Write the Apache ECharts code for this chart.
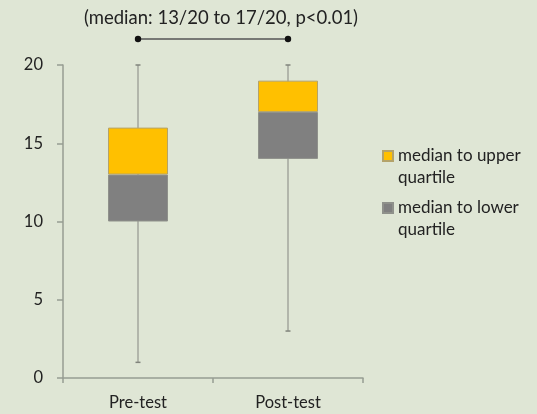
<!DOCTYPE html>
<html>
<head>
<meta charset="utf-8">
<script src="https://cdn.jsdelivr.net/npm/echarts@6/dist/echarts.min.js"></script>
<style>
  html, body { margin: 0; padding: 0; background: #dfe6d5; }
  #chart { width: 537px; height: 414px; }
</style>
</head>
<body>
<div id="chart"></div>
<script>
// Score distribution (out of 20) before and after the course
const categories = ['Pre-test', 'Post-test'];
const minValues = [1, 3];
const lowerQuartile = [10, 14];
const medianValues = [13, 17];
const upperQuartile = [16, 19];
const maxValues = [20, 20];
const yTicks = [0, 5, 10, 15, 20];
const pLabel = 'p<0.01';

const FONT = 'Lato, "Open Sans", sans-serif';
const TEXT = '#222222';
const AXIS = '#979d92';

const lowerSpan = medianValues.map((m, i) => m - lowerQuartile[i]);
const upperSpan = upperQuartile.map((q, i) => q - medianValues[i]);
const whiskerData = categories.map((c, i) => [i, minValues[i], maxValues[i]]);

const chart = echarts.init(document.getElementById('chart'), null, { renderer: 'canvas' });

const option = {
  backgroundColor: '#dfe6d5',
  animation: false,
  textStyle: { fontFamily: FONT },
  title: {
    text: `(median: ${medianValues[0]}/20 to ${medianValues[1]}/20, ${pLabel})`,
    left: 216,
    top: 4,
    textAlign: 'center',
    textStyle: { fontFamily: FONT, fontSize: 18.5, fontWeight: 'normal', color: TEXT }
  },
  legend: {
    orient: 'vertical',
    left: 382,
    top: 123,
    padding: 0,
    itemWidth: 10,
    itemHeight: 10,
    itemGap: -14,
    icon: 'rect',
    data: ['median to upper quartile', 'median to lower quartile'],
    // blank first line keeps the swatch level with the first text line
    formatter: name => '\n' + name.replace(' quartile', '\nquartile'),
    textStyle: { fontFamily: FONT, fontSize: 17, color: TEXT, lineHeight: 22 }
  },
  grid: { left: 63, right: 174, top: 65, bottom: 36, containLabel: false },
  xAxis: {
    type: 'category',
    data: categories,
    axisLine: { lineStyle: { color: AXIS, width: 1.5 } },
    axisTick: { show: true, length: 5, lineStyle: { color: AXIS, width: 1.5 } },
    axisLabel: { color: TEXT, fontSize: 16.5, fontFamily: FONT, margin: 16 }
  },
  yAxis: {
    type: 'value',
    min: yTicks[0],
    max: yTicks[yTicks.length - 1],
    interval: yTicks[1] - yTicks[0],
    splitLine: { show: false },
    axisLine: { show: true, lineStyle: { color: AXIS, width: 1.5 } },
    axisTick: { show: true, length: 6, lineStyle: { color: AXIS, width: 1.5 } },
    axisLabel: { color: TEXT, fontSize: 16.5, fontFamily: FONT, margin: 20 }
  },
  series: [
    {
      name: 'whiskers',
      type: 'custom',
      z: 1,
      silent: true,
      data: whiskerData,
      renderItem: (params, api) => {
        const top = api.coord([api.value(0), api.value(2)]);
        const bot = api.coord([api.value(0), api.value(1)]);
        const x = top[0];
        return {
          type: 'group',
          children: [
            { type: 'line', shape: { x1: x, y1: top[1], x2: x, y2: bot[1] },
              style: { stroke: '#a3a69d', lineWidth: 1.5 } },
            { type: 'line', shape: { x1: x - 2.5, y1: top[1], x2: x + 2.5, y2: top[1] },
              style: { stroke: '#80847c', lineWidth: 1.5 } },
            { type: 'line', shape: { x1: x - 2.5, y1: bot[1], x2: x + 2.5, y2: bot[1] },
              style: { stroke: '#80847c', lineWidth: 1.5 } }
          ]
        };
      }
    },
    {
      name: 'base',
      type: 'bar',
      stack: 'box',
      z: 2,
      silent: true,
      barWidth: 60,
      data: lowerQuartile,
      itemStyle: { color: 'rgba(0,0,0,0)' }
    },
    {
      name: 'median to lower quartile',
      type: 'bar',
      stack: 'box',
      z: 2,
      barWidth: 60,
      data: lowerSpan,
      itemStyle: { color: '#808080', borderColor: '#8f918b', borderWidth: 1 }
    },
    {
      name: 'median to upper quartile',
      type: 'bar',
      stack: 'box',
      z: 2,
      barWidth: 60,
      data: upperSpan,
      itemStyle: { color: '#ffc000', borderColor: '#b4a36a', borderWidth: 1 }
    }
  ]
};

chart.setOption(option);

// Significance bracket joining the two columns
const bracketY = 39;
const xPre = chart.convertToPixel({ xAxisIndex: 0 }, categories[0]);
const xPost = chart.convertToPixel({ xAxisIndex: 0 }, categories[1]);
chart.setOption({
  graphic: [
    { type: 'line', shape: { x1: xPre, y1: bracketY, x2: xPost, y2: bracketY },
      style: { stroke: '#555555', lineWidth: 1.5 } },
    { type: 'circle', shape: { cx: xPre, cy: bracketY, r: 3.2 }, style: { fill: '#111111' } },
    { type: 'circle', shape: { cx: xPost, cy: bracketY, r: 3.2 }, style: { fill: '#111111' } }
  ]
});
</script>
</body>
</html>
